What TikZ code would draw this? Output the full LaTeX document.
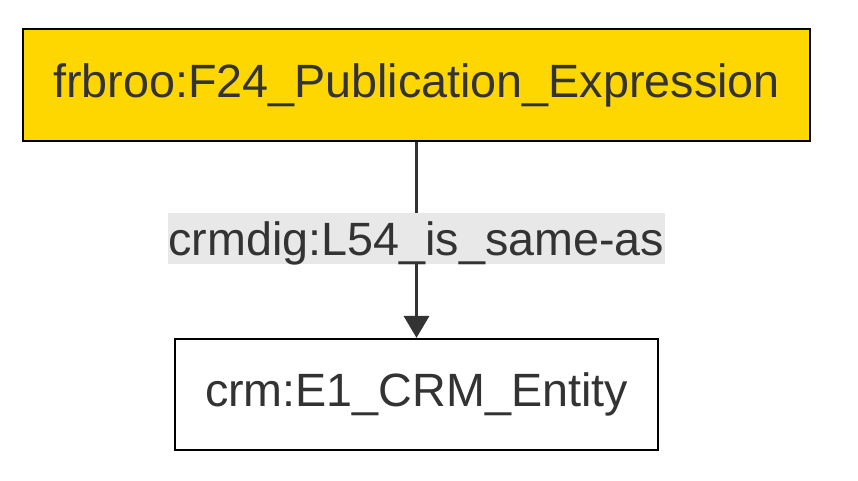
\documentclass[tikz,border=0pt]{standalone}
\usepackage{fontspec}
\setmainfont{Liberation Sans}
\usetikzlibrary{arrows.meta}
\definecolor{gold}{HTML}{FFD700}
\definecolor{txt}{HTML}{333333}
\definecolor{edgec}{HTML}{333333}
\definecolor{lblbg}{HTML}{E8E8E8}
\tikzset{
  cls/.style={draw=black, line width=2.2pt, text=txt, inner sep=0pt, font=\fontsize{46.7}{56}\selectfont},
  lbl/.style={fill=lblbg, text=txt, inner sep=0pt, minimum height=51pt, text depth=0pt, font=\fontsize{46.7}{56}\selectfont},
  rel/.style={draw=edgec, line width=3.5pt, -{Triangle[length=22pt,width=25pt]}}
}
\begin{document}
\begin{tikzpicture}[x=1pt,y=-1pt]
\useasboundingbox (0,0) rectangle (858,480);
\node[cls, fill=gold, minimum width=787pt, minimum height=112pt] (a) at (416.5,85) {frbroo:F24\_Publication\_Expression};
\node[cls, fill=white, minimum width=483pt, minimum height=111pt] (b) at (416.5,394.5) {crm:E1\_CRM\_Entity};
\draw[rel] (a.south) -- (b.north);
\node[lbl, minimum width=497pt] (l) at (416.5,238.5) {crmdig:L54\_is\_same-as};
\end{tikzpicture}
\end{document}
